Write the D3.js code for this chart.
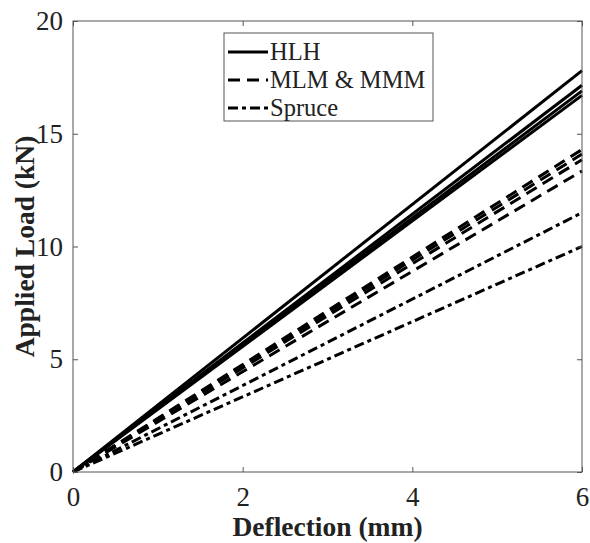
<!DOCTYPE html>
<html>
<head>
<meta charset="utf-8">
<script src="https://cdn.jsdelivr.net/npm/d3@7"></script>
<style>
  body { margin: 0; background: #fff; }
</style>
</head>
<body>
<svg></svg>
<script>
// Load–deflection curves (linear, start at origin)
const deflection = [0, 6];
const hlhLoads = [[0, 17.8], [0, 17.15], [0, 16.9], [0, 16.7]];
const mlmLoads = [[0, 14.3], [0, 14.1], [0, 13.85], [0, 13.35]];
const spruceLoads = [[0, 11.5], [0, 10.0]];

const xTicks = [0, 2, 4, 6];
const yTicks = [0, 5, 10, 15, 20];
const legendLabels = ["HLH", "MLM & MMM", "Spruce"];

const width = 590;
const height = 543;
const margin = { top: 21, right: 8, bottom: 71, left: 73 };
const serif = "Liberation Serif";

const svg = d3.select("svg").attr("width", width).attr("height", height);

const x = d3.scaleLinear().domain([0, 6]).range([margin.left, width - margin.right]);
const y = d3.scaleLinear().domain([0, 20]).range([height - margin.bottom, margin.top]);

// dash styles per group
const dashes = ["none", "12,7", "10,4,4,4"];

const groups = [hlhLoads, mlmLoads, spruceLoads];

const line = d3.line()
  .x((d) => x(d[0]))
  .y((d) => y(d[1]));

const plot = svg.append("g");

groups.forEach((series, gi) => {
  series.forEach((loads) => {
    const pts = deflection.map((dx, i) => [dx, loads[i]]);
    plot.append("path")
      .datum(pts)
      .attr("d", line)
      .attr("fill", "none")
      .attr("stroke", "#000")
      .attr("stroke-width", 3)
      .attr("stroke-dasharray", dashes[gi]);
  });
});

// ---- Axes box ----
const axisColor = "#555";
svg.append("rect")
  .attr("x", x(0))
  .attr("y", y(20))
  .attr("width", x(6) - x(0))
  .attr("height", y(0) - y(20))
  .attr("fill", "none")
  .attr("stroke", axisColor)
  .attr("stroke-width", 1);

// inward ticks on all four sides
const tickLen = 5;
const fmt = d3.format("d");
const xAxisB = d3.axisBottom(x).tickValues(xTicks).tickFormat(fmt).tickSizeInner(-tickLen).tickSizeOuter(0).tickPadding(15);
const xAxisT = d3.axisTop(x).tickValues(xTicks).tickSizeInner(-tickLen).tickSizeOuter(0).tickFormat("");
const yAxisL = d3.axisLeft(y).tickValues(yTicks).tickFormat(fmt).tickSizeInner(-tickLen).tickSizeOuter(0).tickPadding(10);
const yAxisR = d3.axisRight(y).tickValues(yTicks).tickSizeInner(-tickLen).tickSizeOuter(0).tickFormat("");

function styleAxis(g) {
  g.attr("font-family", serif).attr("font-size", 27);
  g.select(".domain").remove();
  g.selectAll(".tick line").attr("stroke", axisColor);
  g.selectAll(".tick text").attr("fill", "#222");
}

svg.append("g").attr("transform", `translate(0,${y(0)})`).call(xAxisB).call(styleAxis);
svg.append("g").attr("transform", `translate(0,${y(20)})`).call(xAxisT).call(styleAxis);
svg.append("g").attr("transform", `translate(${x(0)},0)`).call(yAxisL).call(styleAxis);
svg.append("g").attr("transform", `translate(${x(6)},0)`).call(yAxisR).call(styleAxis);

// ---- Axis labels ----
svg.append("text")
  .attr("x", (x(0) + x(6)) / 2)
  .attr("y", 536)
  .attr("text-anchor", "middle")
  .attr("font-family", serif)
  .attr("font-weight", "bold")
  .attr("font-size", 27.5)
  .attr("fill", "#222")
  .text("Deflection (mm)");

svg.append("text")
  .attr("transform", `translate(34,${(y(0) + y(20)) / 2}) rotate(-90)`)
  .attr("text-anchor", "middle")
  .attr("font-family", serif)
  .attr("font-weight", "bold")
  .attr("font-size", 27.5)
  .attr("fill", "#222")
  .text("Applied Load (kN)");

// ---- Legend ----
const legend = svg.append("g").attr("transform", "translate(224,33)");
legend.append("rect")
  .attr("width", 209)
  .attr("height", 88)
  .attr("fill", "#fff")
  .attr("stroke", axisColor)
  .attr("stroke-width", 1);

legendLabels.forEach((name, i) => {
  const ly = 19 + i * 28;
  legend.append("line")
    .attr("x1", 4)
    .attr("x2", 44)
    .attr("y1", ly)
    .attr("y2", ly)
    .attr("stroke", "#000")
    .attr("stroke-width", 3)
    .attr("stroke-dasharray", dashes[i]);
  legend.append("text")
    .attr("x", 46)
    .attr("y", ly + 8)
    .attr("font-family", serif)
    .attr("font-size", 24.5)
    .attr("fill", "#222")
    .text(name);
});
</script>
</body>
</html>
